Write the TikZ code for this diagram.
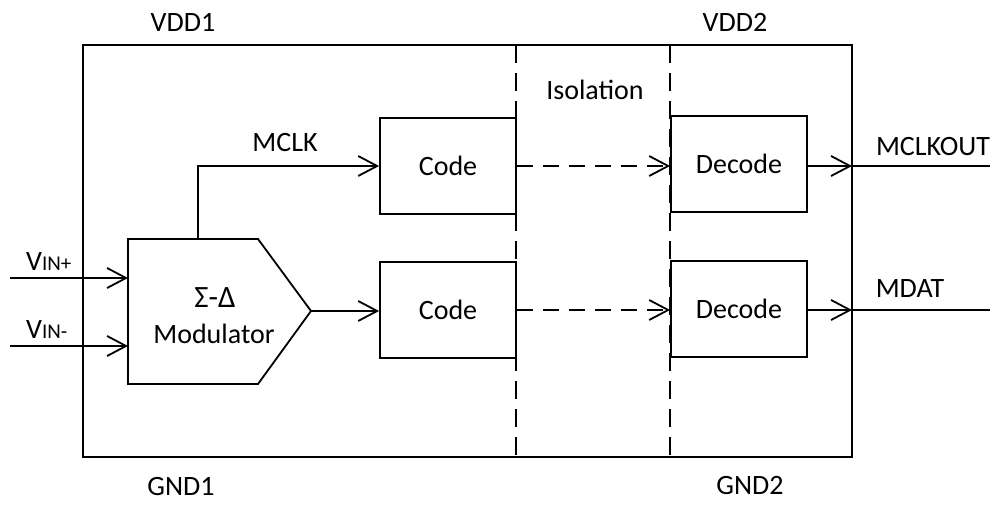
\documentclass[tikz,border=0pt]{standalone}
\usepackage{fontspec}
\setmainfont{Carlito}
\usetikzlibrary{arrows.meta}
\begin{document}
\begin{tikzpicture}[x=1pt,y=-1pt,
  lw/.style={line width=1.8pt},
  box/.style={draw,line width=1.8pt,minimum width=136pt,minimum height=96pt,inner sep=0pt,font=\fontsize{28}{32}\selectfont},
  lbl/.style={font=\fontsize{28}{32}\selectfont,inner sep=0pt},
  arr/.style={line width=1.8pt,-{Straight Barb[length=19pt,width=20pt,line width=1.8pt]}},
  isodash/.style={line width=1.8pt,dash pattern=on 18pt off 10pt},
  arrdash/.style={arr,dash pattern=on 16pt off 10pt}
  ]
\useasboundingbox (0,0) rectangle (998,505);
% outer frame
\draw[lw] (83,45) rectangle (852,457);
\draw[isodash] (516,45) -- (516,457);
\draw[isodash] (670,45) -- (670,457);
% boxes
\node[box] (code1) at (448,166) {Code};
\node[box] (code2) at (448,310) {Code};
\node[box] (dec1) at (739,164) {Decode};
\node[box] (dec2) at (739,309) {Decode};
% modulator
\coordinate (modtl) at (128,239);
\coordinate (modout) at (311,311);
\draw[lw] (modtl) -- (258,239) -- (modout) -- (258,384) -- (128,384) -- cycle;
\node[lbl] (sig) at (215,298) {\fontsize{31}{34}\selectfont Σ-Δ};
\node[lbl] (modtxt) at (214,334) {Modulator};
\coordinate (modtop) at (198,239);
\coordinate (inp) at (10,278);
\coordinate (inm) at (10,346);
\draw[arr] (inp) -- (inp -| modtl);
\draw[arr] (inm) -- (inm -| modtl);
% connections
\draw[arr] (modtop) |- (code1.west);
\draw[arr] (modout) -- (modout -| code2.west);
\draw[arrdash] (code1.east) -- (code1.east -| dec1.west);
\draw[arrdash] (code2.east) -- (code2.east -| dec2.west);
\coordinate (o1) at (990,166);
\coordinate (o2) at (990,310);
\coordinate (b1) at (852,166);
\coordinate (b2) at (852,310);
\draw[arr] (dec1.east |- b1) -- (b1);
\draw[lw] (b1) -- (o1);
\draw[arr] (dec2.east |- b2) -- (b2);
\draw[lw] (b2) -- (o2);
% labels
\node[lbl] (vdd1) at (183,22) {VDD1};
\node[lbl] (vdd2) at (735,22) {VDD2};
\node[lbl] (gnd1) at (181,487) {GND1};
\node[lbl] (gnd2) at (750,486) {GND2};
\node[lbl] (iso) at (595,90) {Isolation};
\node[lbl] (mclk) at (285,143) {MCLK};
\node[lbl] (mclkout) at (933,147) {MCLKOUT};
\node[lbl] (mdat) at (910,289) {MDAT};
\node[lbl,anchor=base west] (vinp) at (26,270) {V{\fontsize{21}{24}\selectfont IN+}};
\node[lbl,anchor=base west] (vinm) at (26,338) {V{\fontsize{21}{24}\selectfont IN-}};
\end{tikzpicture}
\end{document}
